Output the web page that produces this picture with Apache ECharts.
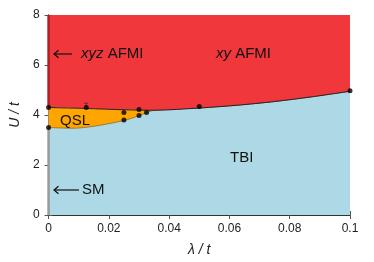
<!DOCTYPE html>
<html><head><meta charset="utf-8">
<script src="https://cdn.jsdelivr.net/npm/echarts@6/dist/echarts.min.js"></script>
<style>html,body{margin:0;padding:0;background:#fff}#c{width:374px;height:262px}</style>
</head><body><div id="c"></div>
<script>
// upper phase boundary (AFMI / QSL,TBI)
const upperX = [0, 0.0125, 0.025, 0.035, 0.05, 0.0625, 0.075, 0.0875, 0.1];
const upperU = [4.30, 4.26, 4.21, 4.19, 4.28, 4.39, 4.54, 4.73, 4.95];
// lower QSL boundary (QSL / TBI)
const lowerX = [0, 0.008, 0.015, 0.025, 0.03, 0.035];
const lowerU = [3.50, 3.47, 3.55, 3.78, 3.97, 4.19];
// computed points
const ptsX = [0, 0, 0.0125, 0.025, 0.025, 0.03, 0.03, 0.0325, 0.05, 0.1];
const ptsU = [4.30, 3.50, 4.30, 4.10, 3.80, 4.22, 3.98, 4.10, 4.34, 4.97];
// error bar
const errX = [0.0125];
const errLo = [4.30];
const errHi = [4.47];
// left-edge phases at lambda = 0
const xyzU = [4.30, 8];
const smU = [0, 3.50];
const xTicks = [0, 0.02, 0.04, 0.06, 0.08, 0.1];
const yTicks = [0, 2, 4, 6, 8];

const RED = '#f0373c', BLUE = '#add8e6', ORANGE = '#ffa500';
const FONT = 'Liberation Sans, Arial, sans-serif';
const SM = 0.3;

const upper = upperX.map((x, i) => [x, upperU[i]]);
const lowerPart = lowerX.map((x, i) => [x, lowerU[i]]);
const lastLower = lowerX[lowerX.length - 1];
const lower = lowerPart.concat(upper.filter(p => p[0] > lastLower));
const upperQ = upper.filter(p => p[0] <= lastLower);
const pts = ptsX.map((x, i) => [x, ptsU[i]]);
const errs = errX.map((x, i) => [x, errLo[i], errHi[i]]);

const chart = echarts.init(document.getElementById('c'), null, {renderer: 'canvas'});
const axisCommon = {
  type: 'value',
  axisLine: {show: true, lineStyle: {color: '#333', width: 1}},
  axisTick: {show: true, inside: true, length: 4, lineStyle: {color: '#555'}},
  splitLine: {show: false},
  axisLabel: {color: '#222', fontSize: 12, fontFamily: FONT}
};
const option = {
  animation: false,
  grid: {left: 48, right: 24, top: 15, bottom: 42},
  xAxis: [
    Object.assign({}, axisCommon, {min: 0, max: 0.1, interval: 0.02, position: 'bottom',
      name: 'λ / t', nameLocation: 'middle', nameGap: 28,
      nameTextStyle: {fontSize: 14, fontStyle: 'italic', color: '#222', fontFamily: FONT},
      axisLabel: Object.assign({}, axisCommon.axisLabel, {margin: 8,
        formatter: v => { const t = xTicks.find(k => Math.abs(k - v) < 1e-9); return t === undefined ? '' : String(t); }})}),
    Object.assign({}, axisCommon, {min: 0, max: 0.1, interval: 0.02, position: 'top', axisLabel: {show: false}})
  ],
  yAxis: [
    Object.assign({}, axisCommon, {min: 0, max: 8, interval: 2, position: 'left',
      name: 'U / t', nameLocation: 'middle', nameGap: 26, nameRotate: 90,
      nameTextStyle: {fontSize: 14, fontStyle: 'italic', color: '#222', fontFamily: FONT},
      axisLabel: Object.assign({}, axisCommon.axisLabel, {margin: 9,
        formatter: v => yTicks.includes(v) ? String(v) : ''})}),
    Object.assign({}, axisCommon, {min: 0, max: 8, interval: 2, position: 'right', axisLabel: {show: false}})
  ],
  series: [
    {type: 'line', data: upper, smooth: SM, symbol: 'none',
     lineStyle: {width: 0}, areaStyle: {color: BLUE, opacity: 1, origin: 'start'}, z: 1},
    {type: 'line', data: upperQ, smooth: SM, symbol: 'none',
     lineStyle: {width: 0}, areaStyle: {color: ORANGE, opacity: 1, origin: 'start'}, z: 2},
    {type: 'line', data: lower, smooth: SM, symbol: 'none',
     lineStyle: {width: 0.8, color: '#8a6a2a'}, areaStyle: {color: BLUE, opacity: 1, origin: 'start'}, z: 3},
    {type: 'line', data: upper, smooth: SM, symbol: 'none',
     lineStyle: {width: 1, color: '#222'}, areaStyle: {color: RED, opacity: 1, origin: 'end'}, z: 4},
    {type: 'line', data: xyzU.map(u => [0, u]), symbol: 'none',
     lineStyle: {width: 2.5, color: '#b01e22'}, z: 6},
    {type: 'line', data: smU.map(u => [0, u]), symbol: 'none',
     lineStyle: {width: 2.5, color: '#9a9a9a'}, z: 6},
    {type: 'custom', data: errs, z: 7,
     renderItem: (params, api) => {
       const a = api.coord([api.value(0), api.value(1)]);
       const b = api.coord([api.value(0), api.value(2)]);
       return {type: 'group', children: [
         {type: 'line', shape: {x1: a[0], y1: a[1], x2: b[0], y2: b[1]}, style: {stroke: '#333', lineWidth: 0.8}},
         {type: 'line', shape: {x1: b[0] - 2, y1: b[1], x2: b[0] + 2, y2: b[1]}, style: {stroke: '#333', lineWidth: 0.8}}
       ]};
     }},
    {type: 'scatter', data: pts, symbol: 'circle', symbolSize: 5,
     itemStyle: {color: '#000'}, z: 8}
  ],
  graphic: [
    {type: 'line', shape: {x1: 54, y1: 54, x2: 72, y2: 54}, style: {stroke: '#111', lineWidth: 1.2}, z: 100},
    {type: 'polyline', shape: {points: [[58.5, 50.2], [54, 54], [58.5, 57.8]]}, style: {stroke: '#111', lineWidth: 1.2, fill: null}, z: 100},
    {type: 'text', left: 81, top: 46, z: 100,
     style: {text: '{i|xyz} AFMI', fontSize: 15, fontFamily: FONT, fill: '#111',
       rich: {i: {fontStyle: 'italic', fontSize: 15, fontFamily: FONT, fill: '#111'}}}},
    {type: 'text', left: 216, top: 46, z: 100,
     style: {text: '{i|xy} AFMI', fontSize: 15, fontFamily: FONT, fill: '#111',
       rich: {i: {fontStyle: 'italic', fontSize: 15, fontFamily: FONT, fill: '#111'}}}},
    {type: 'text', left: 60, top: 113, z: 100,
     style: {text: 'QSL', fontSize: 15, fontFamily: FONT, fill: '#111'}},
    {type: 'text', left: 230, top: 150, z: 100,
     style: {text: 'TBI', fontSize: 15, fontFamily: FONT, fill: '#111'}},
    {type: 'line', shape: {x1: 54, y1: 190, x2: 79, y2: 190}, style: {stroke: '#111', lineWidth: 1.2}, z: 100},
    {type: 'polyline', shape: {points: [[58.5, 186.2], [54, 190], [58.5, 193.8]]}, style: {stroke: '#111', lineWidth: 1.2, fill: null}, z: 100},
    {type: 'text', left: 82, top: 182, z: 100,
     style: {text: 'SM', fontSize: 15, fontFamily: FONT, fill: '#111'}}
  ]
};
chart.setOption(option);
</script></body></html>
